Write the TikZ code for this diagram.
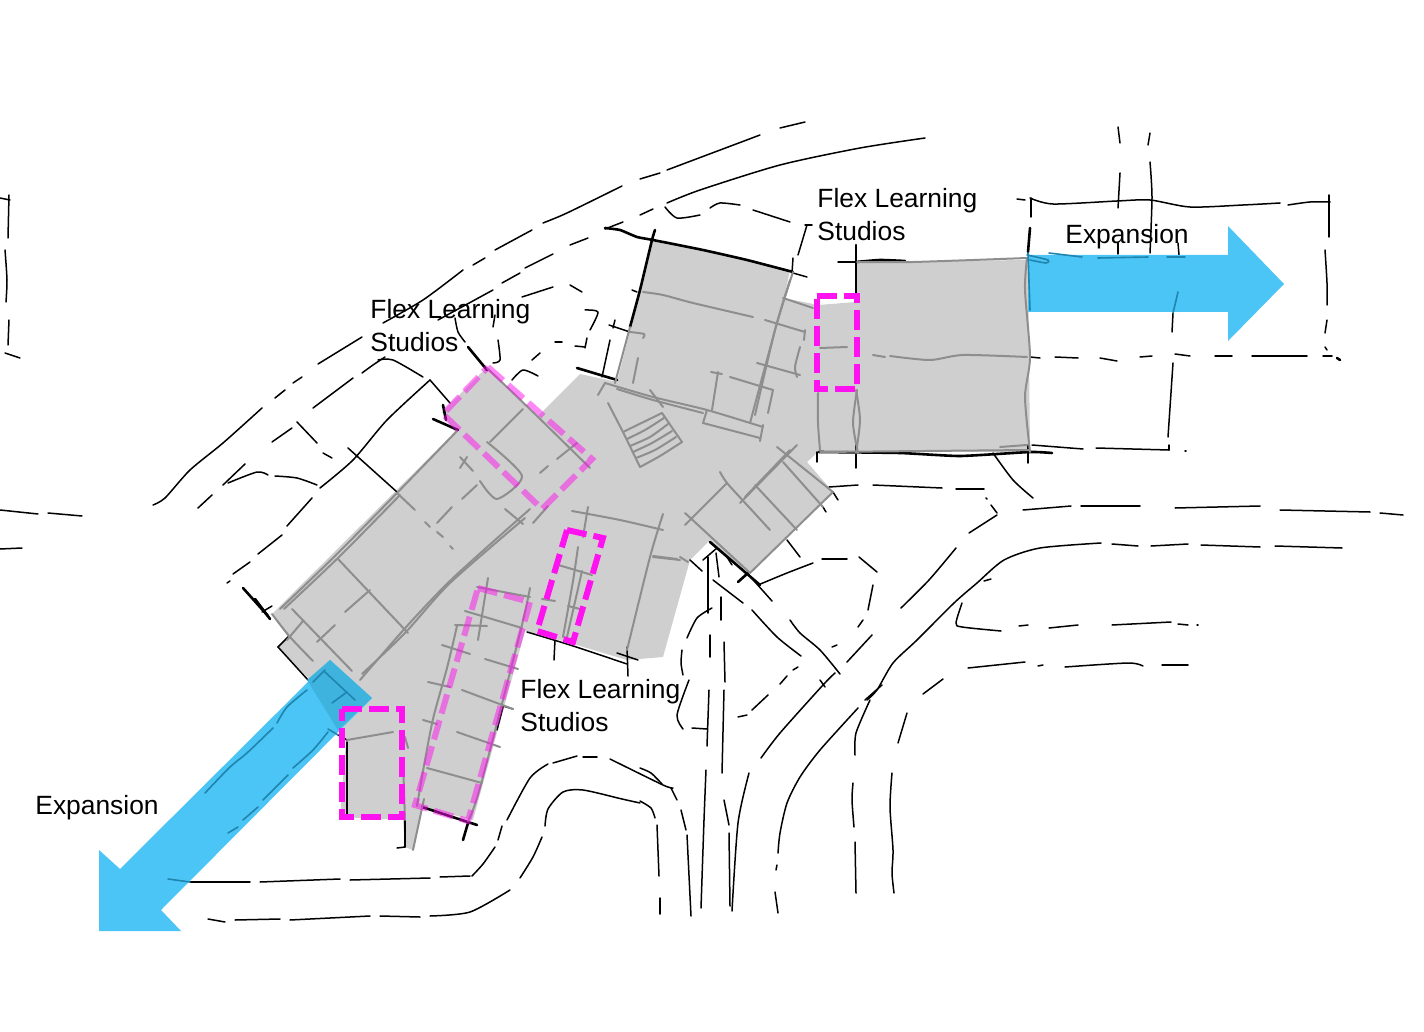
\documentclass[tikz,border=0pt]{standalone}
\usepackage{fontspec}
\setmainfont{Liberation Sans}
\definecolor{bldg}{HTML}{CFCFCF}
\definecolor{sketchgray}{HTML}{8E8E8E}
\definecolor{arrowblue}{HTML}{4BC5F5}
\definecolor{arrowdeep}{HTML}{3DB3DE}
\definecolor{arrowline}{HTML}{1F85AE}
\definecolor{studio}{HTML}{FF12F0}
\newcommand\inkl[1]{\draw[inkline] plot[smooth,tension=.45] coordinates {#1};}
\newcommand\heavyl[1]{\draw[heavyline] plot[smooth,tension=.3] coordinates {#1};}
\newcommand\grayl[1]{\draw[grayline] plot[smooth,tension=.45] coordinates {#1};}
\newcommand\teall[1]{\draw[tealline] plot[smooth,tension=.45] coordinates {#1};}
\tikzset{
  inkline/.style={black,line width=.75pt,line cap=round,line join=round},
  heavyline/.style={black,line width=1.3pt,line cap=round,line join=round},
  grayline/.style={sketchgray,line width=1pt,line cap=round,line join=round},
  tealline/.style={arrowline,line width=.8pt,line cap=round,line join=round},
  studiobox/.style={studio,line width=3pt,dash pattern=on 10pt off 3.5pt,line join=miter},
  studiofaint/.style={studiobox,opacity=.5},
  expandarrow/.style={fill=arrowblue,draw=none},
  label/.style={font=\fontsize{13.2}{16.5}\selectfont,align=left,anchor=west,inner sep=0pt,text=black}
}
\begin{document}
\begin{tikzpicture}[x=.5pt,y=-.5pt]
\useasboundingbox (0,0) rectangle (1424,1032);
\fill[white] (0,0) rectangle (1424,1032);
% building
\fill[bldg] (272,614)--(455,432)--(442,412)--(487,367)--(537,417)--(580,374)--(617,382)--(653,240)--(790,270)--(784,298)--(818,305)--(856,302)--(856,262)--(1028,260)--(1030,452)--(819,451)--(807,462)--(833,492)--(750,573)--(708,542)--(690,560)--(663,657)--(627,660)--(570,643)--(525,631)--(473,820)--(422,807)--(413,850)--(405,847)--(403,820)--(340,817)--(346,742)--(340,725)--(310,680)--(278,647)--(288,637)--cycle;
% far left
\inkl{(0,198)(10,200)} \inkl{(9,195)(8,238)} \inkl{(5,250)(7,280)(6,302)} \inkl{(9,320)(8,345)} \inkl{(5,353)(20,358)}
\inkl{(0,510)(38,514)} \inkl{(48,513)(82,516)} \inkl{(0,549)(22,548)}
% upper arc
\inkl{(153,505)(165,498)(190,470)(223,443)(262,408)} \inkl{(275,398)(285,390)} \inkl{(293,383)(302,377)} \inkl{(318,364)(362,337)}
\inkl{(383,323)(423,300)(463,270)} \inkl{(473,265)(485,258)} \inkl{(495,250)(532,230)} \inkl{(543,223)(567,213)(622,186)} \inkl{(640,179)(660,173)}
\inkl{(667,170)(760,135)} \inkl{(780,128)(805,122)}
% second arc
\inkl{(313,408)(353,378)} \inkl{(362,373)(373,365)(385,357)} \inkl{(378,360)(393,360)(423,377)} \inkl{(438,320)(493,290)} \inkl{(502,283)(520,273)} \inkl{(525,268)(553,254)} \inkl{(570,245)(588,238)} \inkl{(605,229)(623,222)} \inkl{(640,215)(653,209)}
\inkl{(667,203)(700,190)(780,165)(860,148)(925,138)}
\inkl{(665,207)(677,218)(700,215)} \inkl{(710,208)(720,203)(740,205)} \inkl{(753,210)(790,222)}
\inkl{(805,225)(812,225)} \inkl{(807,225)(798,255)}
% third line
\inkl{(522,297)(553,287)} \inkl{(570,285)(582,292)} \inkl{(585,310)(598,312)(590,330)} \inkl{(587,338)(585,348)} \inkl{(575,346)(585,347)} \inkl{(555,342)(562,342)} \inkl{(532,360)(540,353)} \inkl{(512,380)(523,370)(538,376)} 
\inkl{(455,318)(458,332)(465,342)} \heavyl{(468,347)(487,370)} \inkl{(493,327)(495,315)} \inkl{(498,340)(500,360)(493,363)}
\inkl{(609,325)(630,332)} \inkl{(615,320)(613,328)} \inkl{(610,340)(602,377)} \inkl{(632,290)(637,292)}
% lower left of wing
\inkl{(430,380)(450,403)} \inkl{(430,380)(387,420)(353,460)(320,488)} \inkl{(348,448)(397,492)}
\inkl{(228,483)(257,472)(268,475)} \inkl{(275,476)(297,478)(317,485)} \inkl{(245,464)(223,485)}
\inkl{(272,442)(292,428)} \inkl{(297,422)(317,443)} \inkl{(323,453)(332,458)} \inkl{(212,495)(198,508)} \inkl{(312,498)(287,526)} \inkl{(282,535)(258,554)} \inkl{(250,562)(233,574)} \inkl{(227,583)(230,581)}
\heavyl{(243,588)(268,616)} \inkl{(278,647)(308,680)} \inkl{(278,647)(288,637)}
% building outlines in ink
\heavyl{(605,228)(620,230)(637,237)(653,240)(703,250)(747,260)(793,272)} \inkl{(793,273)(807,277)} \inkl{(793,258)(792,273)} \heavyl{(655,230)(652,240)(640,290)(630,327)}
\heavyl{(577,368)(617,380)} \heavyl{(433,419)(458,430)} \heavyl{(443,405)(446,420)} \heavyl{(255,599)(270,619)} \inkl{(262,612)(272,606)}
\inkl{(527,632)(570,645)(627,664)} \inkl{(555,640)(554,660)} \inkl{(627,647)(628,676)} \inkl{(617,653)(638,660)}
\heavyl{(422,807)(477,825)} \heavyl{(463,840)(468,823)} \inkl{(405,820)(405,847)} \inkl{(397,848)(405,847)} \inkl{(347,742)(347,816)} \inkl{(338,735)(347,740)}
\inkl{(503,706)(513,709)} \inkl{(503,707)(497,730)}
\heavyl{(856,245)(856,300)} \inkl{(838,262)(856,262)} \heavyl{(856,262)(880,260)(905,261)}
\heavyl{(819,452)(900,453)(960,456)(1030,452)(1052,453)} \inkl{(856,445)(856,468)} \inkl{(1028,445)(1028,463)} \inkl{(817,452)(817,462)}
\inkl{(993,453)(1013,480)(1033,498)}
\inkl{(702,571)(690,560)} \inkl{(703,560)(717,548)} \heavyl{(710,542)(760,585)} \heavyl{(738,582)(748,573)} \inkl{(747,573)(772,601)} \inkl{(787,540)(800,557)} \inkl{(823,507)(826,512)} \inkl{(833,492)(838,500)} \inkl{(727,557)(732,565)}
% right frame
\inkl{(1030,198)(1053,204)(1117,201)(1150,200)(1190,207)(1243,205)(1280,203)} \inkl{(1288,205)(1310,202)(1330,202)} \inkl{(1017,199)(1025,200)}
\inkl{(1329,195)(1329,237)} \inkl{(1325,250)(1327,283)(1327,305)} \inkl{(1327,320)(1325,333)} \inkl{(1325,347)(1327,350)} \inkl{(1323,356)(1332,356)} \heavyl{(1337,358)(1340,360)}
\inkl{(1031,198)(1031,217)} \heavyl{(1030,228)(1028,252)}
\inkl{(1118,127)(1120,143)} \inkl{(1150,133)(1148,145)} \inkl{(1150,162)(1152,197)(1150,253)} \inkl{(1120,173)(1118,208)} \inkl{(1118,243)(1118,254)} \inkl{(1178,243)(1179,255)}
\inkl{(1030,357)(1040,358)} \inkl{(1055,357)(1078,358)} \inkl{(1100,358)(1117,361)} \inkl{(1140,357)(1152,356)} \inkl{(1175,354)(1190,356)} \inkl{(1215,356)(1232,356)} \inkl{(1252,356)(1307,356)}
\inkl{(1173,313)(1172,332)} \inkl{(1173,363)(1168,437)} \inkl{(1169,445)(1169,450)} \inkl{(1032,445)(1083,449)} \inkl{(1096,448)(1169,450)} \inkl{(1185,451)(1186,451)}
% roads right
\inkl{(1023,510)(1071,506)} \inkl{(1081,506)(1140,506)} \inkl{(1175,508)(1260,506)} \inkl{(1280,510)(1370,512)} \inkl{(1380,513)(1403,515)}
\inkl{(778,913)(775,892)} \inkl{(776,870)(777,865)} \inkl{(778,853)(780,833)(787,803)(800,777)(820,750)(858,708)} \inkl{(867,700)(877,690)(893,663)(917,640)(954,603)(977,583)(1004,560)(1040,548)(1101,543)}
\inkl{(1112,544)(1138,546)} \inkl{(1151,546)(1188,544)} \inkl{(1201,545)(1260,547)} \inkl{(1275,546)(1342,548)}
\inkl{(749,773)(738,823)(732,911)} \inkl{(761,758)(780,733)(823,685)(835,673)} \inkl{(820,680)(825,687)}
\inkl{(701,908)(704,820)(706,770)} \inkl{(707,746)(709,690)} \inkl{(710,635)(710,657)} \inkl{(708,557)(708,613)}
\inkl{(716,553)(719,577)} \inkl{(721,597)(721,620)} \inkl{(724,642)(725,682)} \inkl{(724,690)(722,773)} \inkl{(724,800)(729,825)} \inkl{(729,833)(730,906)}
\inkl{(640,768)(651,773)(662,784)} \inkl{(671,788)(677,800)} \inkl{(681,810)(686,830)} \inkl{(687,835)(691,916)}
\inkl{(640,801)(651,808)(655,818)} \inkl{(657,825)(659,876)} \inkl{(660,898)(660,914)}
\inkl{(712,608)(697,618)(687,638)} \inkl{(682,650)(681,663)(683,675)} \inkl{(689,680)(677,715)(683,729)} \inkl{(692,728)(707,729)}
\inkl{(713,580)(743,603)} \inkl{(752,610)(777,637)(801,656)} \inkl{(790,620)(800,633)(820,650)(840,674)}
\inkl{(798,667)(793,670)} \inkl{(787,676)(780,684)} \inkl{(768,695)(752,710)} \inkl{(747,715)(738,717)}
\inkl{(837,645)(832,647)} \inkl{(872,635)(847,662)} \inkl{(873,585)(868,610)} \inkl{(863,620)(858,627)} \inkl{(877,572)(859,557)} \inkl{(847,559)(822,559)} \inkl{(813,563)(787,573)(758,585)}
\inkl{(901,608)(929,580)(956,548)} \inkl{(969,533)(997,515)} \inkl{(997,513)(991,505)} \inkl{(986,498)(987,499)}
\inkl{(984,489)(956,489)} \inkl{(942,488)(873,485)} \inkl{(858,485)(829,487)}
\inkl{(865,700)(882,685)} \inkl{(870,700)(856,733)(855,755)} \inkl{(853,783)(852,800)(854,827)} \inkl{(855,842)(856,893)}
\inkl{(907,713)(898,743)} \inkl{(892,773)(890,807)(893,850)(892,873)(894,893)} \inkl{(943,679)(923,694)}
\inkl{(968,668)(1025,662)} \inkl{(1038,666)(1043,665)} \inkl{(1065,667)(1128,663)(1143,666)} \inkl{(1162,665)(1188,665)}
\inkl{(962,603)(956,623)(962,627)(1001,631)} \inkl{(1019,626)(1028,625)} \inkl{(1049,628)(1078,625)} \inkl{(1112,625)(1171,622)} \inkl{(1178,624)(1188,625)} \inkl{(1197,625)(1198,625)}
\inkl{(984,581)(991,579)}
% loop road bottom left
\inkl{(673,788)(663,785)(610,759)} \inkl{(597,757)(583,757)} \inkl{(577,756)(553,763)} \inkl{(548,764)(530,778)(507,820)} \inkl{(502,826)(498,840)} \inkl{(495,847)(483,864)(472,876)}
\inkl{(470,876)(440,877)} \inkl{(430,878)(350,880)} \inkl{(340,879)(260,882)} \inkl{(250,882)(190,882)}
\inkl{(640,803)(622,799)(583,790)(563,792)(548,809)(545,826)} \inkl{(542,837)(533,857)(520,878)} \inkl{(510,890)(470,912)(430,916)} \inkl{(420,917)(380,916)} \inkl{(370,916)(290,920)} \inkl{(280,919)(235,920)} \inkl{(225,922)(208,919)}
% gray sketch lines: west wing
\grayl{(487,368)(537,416)(590,468)} \grayl{(280,609)(337,554)(397,493)(457,431)} \grayl{(284,609)(340,556)(400,495)}
\grayl{(530,509)(453,578)(407,626)(360,680)} \grayl{(525,518)(450,583)(405,633)(362,674)}
\grayl{(272,614)(290,637)(313,661)} \grayl{(338,559)(408,633)} \grayl{(370,590)(345,612)} \grayl{(335,625)(317,642)}
\grayl{(292,609)(352,671)} \grayl{(303,621)(287,640)} \grayl{(397,493)(415,510)} \grayl{(425,522)(430,527)} \grayl{(437,532)(443,537)} \grayl{(450,546)(453,549)}
\grayl{(477,485)(462,499)} \grayl{(452,507)(437,523)} \grayl{(487,442)(522,476)(497,499)(480,481)} \grayl{(460,457)(473,471)} \grayl{(467,457)(460,468)}
\grayl{(523,409)(490,442)} \grayl{(577,443)(557,459)} \grayl{(548,466)(540,473)} \grayl{(505,509)(523,524)} \grayl{(533,523)(548,506)}
% south blocks
\grayl{(572,511)(620,520)(663,530)} \grayl{(588,507)(583,537)} \grayl{(663,514)(650,557)(627,650)} \grayl{(653,556)(677,559)} \grayl{(680,557)(688,562)}
\grayl{(578,547)(573,581)(563,637)} \grayl{(582,571)(567,637)} \grayl{(555,564)(592,575)} \grayl{(542,599)(555,601)} \grayl{(568,606)(580,609)}
\grayl{(488,578)(483,609)(478,640)} \grayl{(477,587)(530,597)} \grayl{(465,611)(522,628)} \grayl{(455,625)(487,626)} \grayl{(457,626)(447,668)(433,719)(423,771)(417,806)}
\grayl{(442,645)(470,654)} \grayl{(485,659)(518,669)} \grayl{(428,682)(450,687)} \grayl{(462,690)(513,709)} \grayl{(423,720)(437,724)} \grayl{(457,732)(500,747)} \grayl{(427,768)(482,783)}
\grayl{(530,588)(520,633)(480,788)(468,821)} \grayl{(405,737)(408,748)} \grayl{(403,760)(405,820)} \grayl{(424,799)(413,850)} \grayl{(347,740)(393,732)}
% stairs
\grayl{(662,413)(682,442)} \grayl{(682,442)(660,456)(640,467)} \grayl{(640,467)(623,432)} \grayl{(623,432)(662,413)}
\grayl{(627,439)(645,430)(664,418)} \grayl{(630,446)(650,437)(668,424)} \grayl{(633,452)(652,443)(672,431)} \grayl{(636,458)(655,450)(676,437)}
% north block
\grayl{(643,292)(663,295)(693,303)(753,317)} \grayl{(765,320)(805,332)} \grayl{(805,330)(804,340)} \grayl{(800,347)(795,367)(797,377)}
\grayl{(793,272)(777,323)(750,423)} \grayl{(790,280)(775,330)(755,415)} \grayl{(757,363)(800,375)}
\grayl{(605,383)(653,397)(707,410)(763,427)} \grayl{(617,389)(653,400)(703,413)} \grayl{(703,423)(760,438)} \grayl{(707,410)(703,423)} \grayl{(763,425)(760,441)}
\grayl{(711,372)(722,374)} \grayl{(718,372)(712,410)} \grayl{(730,377)(773,390)} \grayl{(773,390)(768,413)}
\grayl{(638,358)(633,383)} \grayl{(630,332)(644,334)(643,338)} \grayl{(630,327)(615,383)} \grayl{(608,403)(623,432)} \grayl{(650,390)(663,407)} \grayl{(605,383)(598,395)}
\grayl{(783,298)(813,308)}
% east block
\grayl{(857,262)(913,262)(1027,258)} \grayl{(857,390)(853,423)(858,453)} \grayl{(856,390)(860,420)(856,453)} \grayl{(818,393)(818,423)(820,450)} \grayl{(820,348)(847,347)}
\grayl{(873,355)(885,357)} \grayl{(890,356)(930,360)(963,355)(1027,357)} \grayl{(1027,258)(1025,290)(1030,357)(1025,397)(1030,452)} \grayl{(820,452)(1030,450)} \grayl{(1000,447)(1027,445)}
% SE wing
\grayl{(777,447)(833,492)} \grayl{(833,492)(750,573)} \grayl{(797,445)(740,503)} \grayl{(790,450)(745,497)} \grayl{(720,472)(727,483)(747,505)(770,530)} \grayl{(755,485)(797,530)} \grayl{(783,462)(823,507)}
\grayl{(727,483)(685,525)} \grayl{(685,513)(750,573)} \grayl{(653,557)(680,560)}
% expansion arrows
\path[expandarrow] (1028,255)--(1228,255)--(1228,226)--(1284,284)--(1228,341)--(1228,312)--(1028,312)--cycle;
\path[expandarrow] (330,660)--(372,698)--(161,910)--(181,931)--(99,931)--(99,850)--(120,869)--cycle;
\fill[arrowdeep] (330,660)--(372,698)--(338,730)--(307,680)--cycle;
% lines seen through the arrows
\teall{(1049,253)(1082,257)} \teall{(1098,258)(1148,257)} \teall{(1167,257)(1185,257)} \teall{(1178,292)(1173,313)} \teall{(1028,253)(1030,310)} \teall{(1027,255)(1048,260)(1046,263)(1030,260)}
\teall{(205,793)(230,767)(247,753)(273,728)} \teall{(277,723)(287,707)(307,690)} \teall{(228,833)(238,827)} \teall{(243,820)(258,807)} \teall{(263,800)(288,775)} \teall{(293,768)(313,750)(328,732)}
\teall{(332,703)(347,692)} \teall{(325,672)(355,700)} \teall{(313,682)(325,670)} \teall{(168,879)(190,882)} \teall{(328,729)(338,735)}
% flex studios
\draw[studiobox] (817,296)--(857,296)--(857,389)--(817,389)--cycle;
\draw[studiobox] (342,709)--(402,709)--(402,817)--(342,817)--cycle;
\draw[studiobox] (567,530)--(603,538)--(573,642)--(537,631)--cycle;
\draw[studiofaint] (478,588)--(530,602)--(468,821)--(415,805)--cycle;
\draw[studiofaint] (488,367)--(592,459)--(542,509)--(443,414)--cycle;
% labels
\node[label] (flexa) at (817,215) {Flex Learning\\Studios};
\node[label] (flexb) at (370,326) {Flex Learning\\Studios};
\node[label] (flexc) at (520,706) {Flex Learning\\Studios};
\node[label] (expa) at (1065,237) {Expansion};
\node[label] (expb) at (35,808) {Expansion};
\end{tikzpicture}
\end{document}
